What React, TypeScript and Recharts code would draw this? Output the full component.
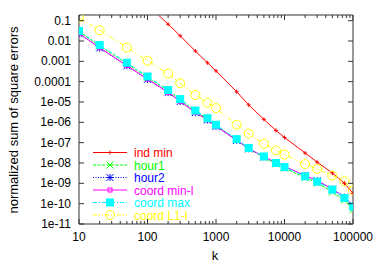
import React from 'react';
import { LineChart, Line, XAxis, YAxis } from 'recharts';

// k values (x axis, log scale)
const kValues = [10, 20, 50, 100, 200, 300, 500, 750, 1000, 2000, 3000, 5000, 7500, 10000, 20000, 30000, 50000, 75000, 100000];

// series values
const indMin = [null, null, null, 0.6, 0.067, 0.018, 3.2e-3, 8.5e-4, 3.4e-4, 3.2e-5, 7.2e-6, 1.4e-6, 4e-7, 1.8e-7, 3.1e-8, 1.1e-8, 3.2e-9, 1e-9, 3.2e-10];
const hour1 = [0.029, 0.0058, 7.8e-4, 1.65e-4, 3.6e-5, 1.3e-5, 3.5e-6, 1.5e-6, 7e-7, 1.4e-7, 5e-8, 1.9e-8, 9e-9, 5.6e-9, 1.9e-9, 1.05e-9, 3.8e-10, 1.5e-10, 5e-11];
const hour2 = [0.023, 0.0045, 6e-4, 1.3e-4, 2.9e-5, 1.05e-5, 3e-6, 1.3e-6, 6.3e-7, 1.3e-7, 5e-8, 2e-8, 1.05e-8, 6.8e-9, 2.4e-9, 1.35e-9, 5.2e-10, 2.1e-10, 8e-11];
const coordMinL = [0.024, 0.0047, 6.2e-4, 1.35e-4, 3e-5, 1.1e-5, 3.1e-6, 1.35e-6, 6.5e-7, 1.35e-7, 5.1e-8, 2.05e-8, 1.07e-8, 6.9e-9, 2.4e-9, 1.35e-9, 5.2e-10, 2.1e-10, 8e-11];
const coordMax = [0.031, 0.0063, 8.5e-4, 1.8e-4, 3.9e-5, 1.4e-5, 3.8e-6, 1.6e-6, 7.6e-7, 1.5e-7, 5.5e-8, 2.1e-8, 1e-8, 6.3e-9, 2.2e-9, 1.2e-9, 4.9e-10, 1.9e-10, 7.2e-11];
const coordL1L = [0.14, 0.034, 0.0048, 1.07e-3, 2.5e-4, 8.3e-5, 2.2e-5, 9.3e-6, 5e-6, 7.6e-7, 2.8e-7, 8.9e-8, 4.2e-8, 2.6e-8, 8.9e-9, 5.1e-9, 2.4e-9, 1.26e-9, 4.6e-10];

const yTicks = [1e-11, 1e-10, 1e-9, 1e-8, 1e-7, 1e-6, 1e-5, 1e-4, 1e-3, 1e-2, 0.1];
const yTickLabels = ['1e-11', '1e-10', '1e-09', '1e-08', '1e-07', '1e-06', '1e-05', '0.0001', '0.001', '0.01', '0.1'];
const xMajor = [10, 100, 1000, 10000, 100000];
const xMinorSteps = [2, 3, 4, 5, 6, 7, 8, 9];

const xTicks: number[] = [];
xMajor.forEach((d, i) => {
  xTicks.push(d);
  if (i < xMajor.length - 1) xMinorSteps.forEach((m) => xTicks.push(d * m));
});

const data = kValues.map((k, i) => ({
  k,
  indMin: indMin[i],
  hour1: hour1[i],
  hour2: hour2[i],
  coordMinL: coordMinL[i],
  coordMax: coordMax[i],
  coordL1L: coordL1L[i],
}));

const FONT = '"Liberation Sans", Arial, sans-serif';
const W = 374;
const H = 262;
const margin = { top: 14, right: 20, bottom: 37, left: 78 };

// marker shapes (gnuplot-like point types)
const plusMark = (x: number, y: number, c: string, s = 2) => (
  <g stroke={c} strokeWidth={1}>
    <line x1={x - s} x2={x + s} y1={y} y2={y} />
    <line x1={x} x2={x} y1={y - s} y2={y + s} />
  </g>
);
const crossMark = (x: number, y: number, c: string, s = 3.5) => (
  <g stroke={c} strokeWidth={1}>
    <line x1={x - s} x2={x + s} y1={y - s} y2={y + s} />
    <line x1={x - s} x2={x + s} y1={y + s} y2={y - s} />
  </g>
);
const starMark = (x: number, y: number, c: string, s = 3.5) => (
  <g stroke={c} strokeWidth={1}>
    <line x1={x - s} x2={x + s} y1={y - s} y2={y + s} />
    <line x1={x - s} x2={x + s} y1={y + s} y2={y - s} />
    <line x1={x - s} x2={x + s} y1={y} y2={y} />
    <line x1={x} x2={x} y1={y - s} y2={y + s} />
  </g>
);
const openSquare = (x: number, y: number, c: string, s = 2) => (
  <rect x={x - s} y={y - s} width={2 * s} height={2 * s} fill="none" stroke={c} strokeWidth={1} />
);
const filledSquare = (x: number, y: number, c: string, s = 4) => (
  <rect x={x - s} y={y - s} width={2 * s} height={2 * s} fill={c} stroke="none" />
);
const openCircle = (x: number, y: number, c: string, r = 4.5) => (
  <circle cx={x} cy={y} r={r} fill="none" stroke={c} strokeWidth={1} />
);

const series = [
  { key: 'indMin', name: 'ind min', color: '#ff0000', dash: undefined, mark: plusMark },
  { key: 'hour1', name: 'hour1', color: '#00ff00', dash: '3 1.5', mark: crossMark },
  { key: 'hour2', name: 'hour2', color: '#0000ff', dash: '1 1.5', mark: starMark },
  { key: 'coordMinL', name: 'coord min-l', color: '#ff00ff', dash: undefined, mark: openSquare },
  { key: 'coordMax', name: 'coord max', color: '#00ffff', dash: '4 2 1 2', mark: filledSquare },
  { key: 'coordL1L', name: 'coord L1-l', color: '#ffff00', dash: '4 2 1 2 1 2', mark: openCircle },
];

const makeDot = (mark: any, color: string) => (props: any) => {
  const { cx, cy, index, value } = props;
  if (cx == null || cy == null || value == null) return <g key={index} />;
  return <g key={index}>{mark(cx, cy, color)}</g>;
};

const axisColor = '#333';

const LeftTick = (props: any) => {
  const { x, y, payload } = props;
  const i = yTicks.indexOf(payload.value);
  return (
    <g>
      <line x1={x} x2={x + 5} y1={y} y2={y} stroke={axisColor} />
      <text x={x - 8} y={y + 4} textAnchor="end" fontSize={12} fontFamily={FONT} fill="#000">
        {i >= 0 ? yTickLabels[i] : ''}
      </text>
    </g>
  );
};

const RightTick = (props: any) => {
  const { x, y } = props;
  return <line x1={x} x2={x - 5} y1={y} y2={y} stroke={axisColor} />;
};

const BottomTick = (props: any) => {
  const { x, y, payload } = props;
  const major = xMajor.includes(payload.value);
  return (
    <g>
      <line x1={x} x2={x} y1={y} y2={y - (major ? 5 : 3)} stroke={axisColor} />
      {major && (
        <text x={x} y={y + 17} textAnchor="middle" fontSize={12} fontFamily={FONT} fill="#000">
          {payload.value}
        </text>
      )}
    </g>
  );
};

const TopTick = (props: any) => {
  const { x, y, payload } = props;
  const major = xMajor.includes(payload.value);
  return <line x1={x} x2={x} y1={y} y2={y + (major ? 5 : 3)} stroke={axisColor} />;
};

const legendRows = [152.5, 165, 177.5, 190, 202.5, 215];

const KeyBox = () => (
  <svg width={W} height={H} style={{ position: 'absolute', left: 0, top: 0, pointerEvents: 'none' }}>
    {series.map((s, i) => {
      const y = legendRows[i];
      return (
        <g key={s.key}>
          <line x1={93} x2={127} y1={y} y2={y} stroke={s.color} strokeDasharray={s.dash} strokeWidth={1} />
          {s.mark(110, y, s.color)}
          <text x={134} y={y + 4.5} fontSize={12} fontFamily={FONT} fill={s.color}>
            {s.name}
          </text>
        </g>
      );
    })}
  </svg>
);

export default function App() {
  return (
    <div style={{ position: 'absolute', left: 0, top: 0, width: W, height: H, background: '#fff' }}>
      <LineChart width={W} height={H} data={data} margin={margin}>
        <XAxis
          xAxisId="b"
          dataKey="k"
          type="number"
          scale="log"
          domain={[10, 100000]}
          allowDataOverflow
          ticks={xTicks}
          interval={0}
          height={1}
          tickSize={0}
          tickMargin={0}
          tick={<BottomTick />}
          axisLine={{ stroke: axisColor, strokeWidth: 1 }}
        />
        <XAxis
          xAxisId="t"
          orientation="top"
          dataKey="k"
          type="number"
          scale="log"
          domain={[10, 100000]}
          allowDataOverflow
          ticks={xTicks}
          interval={0}
          height={1}
          tickSize={0}
          tickMargin={0}
          tick={<TopTick />}
          axisLine={{ stroke: '#777', strokeWidth: 1.5 }}
        />
        <YAxis
          yAxisId="l"
          type="number"
          scale="log"
          domain={[1e-11, 0.19]}
          allowDataOverflow
          ticks={yTicks}
          interval={0}
          width={1}
          tickSize={0}
          tickMargin={0}
          tick={<LeftTick />}
          axisLine={{ stroke: axisColor, strokeWidth: 1 }}
        />
        <YAxis
          yAxisId="r"
          orientation="right"
          type="number"
          scale="log"
          domain={[1e-11, 0.19]}
          allowDataOverflow
          ticks={yTicks}
          interval={0}
          width={1}
          tickSize={0}
          tickMargin={0}
          tick={<RightTick />}
          axisLine={{ stroke: '#777', strokeWidth: 1.5 }}
        />
        {series.map((s) => (
          <Line
            key={s.key}
            xAxisId="b"
            yAxisId="l"
            dataKey={s.key}
            stroke={s.color}
            strokeWidth={1}
            strokeDasharray={s.dash}
            dot={makeDot(s.mark, s.color)}
            activeDot={false}
            isAnimationActive={false}
            type="linear"
          />
        ))}
      </LineChart>
      <KeyBox />
      <svg width={W} height={H} style={{ position: 'absolute', left: 0, top: 0, pointerEvents: 'none' }}>
        <text
          x={18}
          y={120}
          transform="rotate(-90 18 120)"
          textAnchor="middle"
          fontSize={13}
          fontFamily={FONT}
          fill="#000"
        >
          normalized sum of square errors
        </text>
        <text x={215} y={260} textAnchor="middle" fontSize={13} fontFamily={FONT} fill="#000">
          k
        </text>
      </svg>
    </div>
  );
}
